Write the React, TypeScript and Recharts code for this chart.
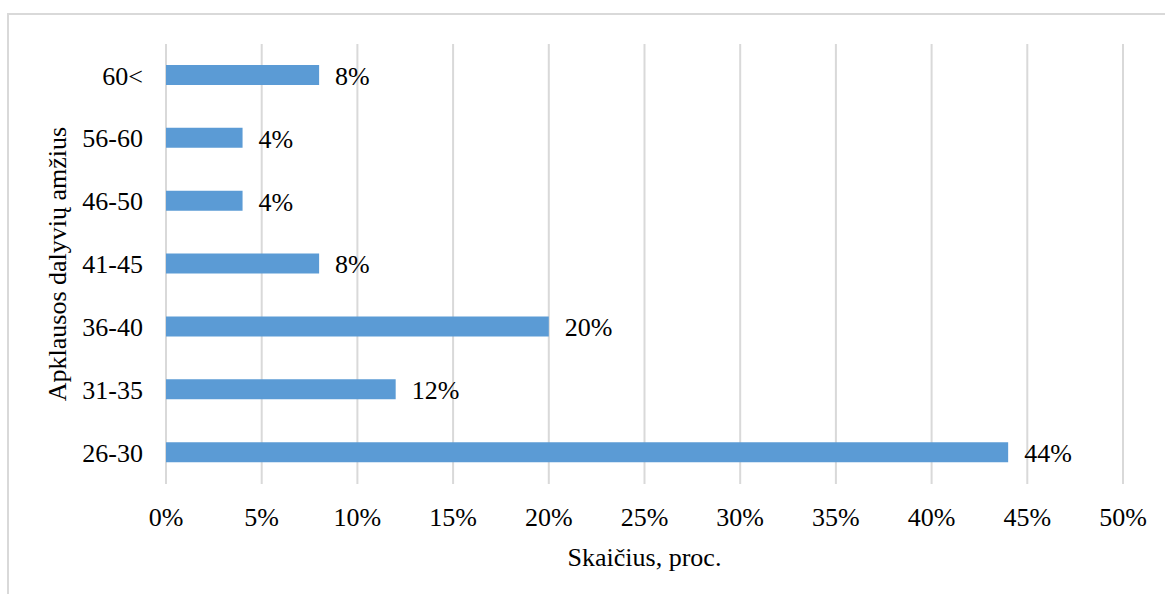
import React from "react";
import {
  Bar,
  BarChart,
  CartesianGrid,
  LabelList,
  XAxis,
  YAxis,
} from "recharts";

const ageGroups = ["60<", "56-60", "46-50", "41-45", "36-40", "31-35", "26-30"];
const shares = [8, 4, 4, 8, 20, 12, 44];
const xTicks = [0, 5, 10, 15, 20, 25, 30, 35, 40, 45, 50];

const xTitle = "Skaičius, proc.";
const yTitle = "Apklausos dalyvių amžius";

const FONT = '"Liberation Serif", "Times New Roman", serif';
const FONT_SIZE = 26;
const BAR_COLOR = "#5B9BD5";
const GRID_COLOR = "#d9d9d9";

const data = ageGroups.map((age, i) => ({ age, value: shares[i] }));

const pct = (v: number) => `${v}%`;

function XTick(props: any) {
  const { x, y, payload } = props;
  return (
    <text
      x={x}
      y={y}
      dy={FONT_SIZE * 0.71}
      textAnchor="middle"
      fill="#000"
      fontSize={FONT_SIZE}
      fontFamily={FONT}
    >
      {pct(payload.value)}
    </text>
  );
}

function YTick(props: any) {
  const { x, y, payload } = props;
  return (
    <text
      x={x}
      y={y}
      dy={FONT_SIZE * 0.35}
      textAnchor="end"
      fill="#000"
      fontSize={FONT_SIZE}
      fontFamily={FONT}
    >
      {payload.value}
    </text>
  );
}

function ValueLabel(props: any) {
  const { x, y, width, height, value } = props;
  return (
    <text
      x={x + width + 16}
      y={y + height / 2}
      dy={FONT_SIZE * 0.38}
      textAnchor="start"
      fill="#000"
      fontSize={FONT_SIZE}
      fontFamily={FONT}
    >
      {pct(value)}
    </text>
  );
}

function XTitle(props: any) {
  const vb = props.viewBox || {};
  return (
    <text
      x={vb.x + vb.width / 2}
      y={vb.y + 82}
      textAnchor="middle"
      fill="#000"
      fontSize={FONT_SIZE}
      fontFamily={FONT}
    >
      {xTitle}
    </text>
  );
}

function YTitle(props: any) {
  const vb = props.viewBox || {};
  const cx = vb.x + 66;
  const cy = vb.y + vb.height / 2;
  return (
    <text
      x={cx}
      y={cy}
      transform={`rotate(-90, ${cx}, ${cy})`}
      textAnchor="middle"
      fill="#000"
      fontSize={FONT_SIZE}
      fontFamily={FONT}
    >
      {yTitle}
    </text>
  );
}

export default function App() {
  return (
    <div
      style={{
        position: "absolute",
        left: 0,
        top: 0,
        width: 1165,
        height: 594,
        background: "#fff",
        fontFamily: FONT,
      }}
    >
      <div
        style={{
          position: "absolute",
          left: 7,
          top: 13,
          right: 0,
          bottom: 0,
          borderTop: `2px solid ${GRID_COLOR}`,
          borderLeft: `2px solid ${GRID_COLOR}`,
        }}
      />
      <div style={{ position: "absolute", left: 0, top: 0 }}>
        <BarChart
          width={1165}
          height={594}
          data={data}
          layout="vertical"
          margin={{ top: 44, right: 42, bottom: 0, left: 0 }}
        >
          <CartesianGrid horizontal={false} stroke={GRID_COLOR} strokeWidth={2} />
          <XAxis
            type="number"
            domain={[0, 50]}
            ticks={xTicks}
            tick={<XTick />}
            axisLine={false}
            tickLine={false}
            tickSize={0}
            tickMargin={24}
            height={110}
            interval={0}
            label={<XTitle />}
          />
          <YAxis
            type="category"
            dataKey="age"
            tick={<YTick />}
            axisLine={false}
            tickLine={false}
            tickSize={0}
            tickMargin={23}
            width={166}
            interval={0}
            label={<YTitle />}
          />
          <Bar dataKey="value" fill={BAR_COLOR} barSize={20} isAnimationActive={false}>
            <LabelList dataKey="value" content={<ValueLabel />} />
          </Bar>
        </BarChart>
      </div>
    </div>
  );
}
